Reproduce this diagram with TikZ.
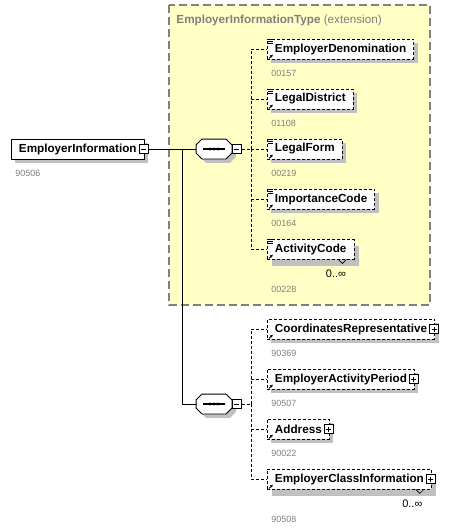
\documentclass[tikz,border=0pt]{standalone}
\usepackage{fontspec}
\setmainfont{Liberation Sans}
\usepackage{tikz}
\usetikzlibrary{positioning,calc,arrows.meta}
\definecolor{TypeYellow}{RGB}{255,255,198}
\definecolor{ShadowGray}{RGB}{192,192,192}
\definecolor{IdGray}{RGB}{128,128,128}

\begin{document}
\begin{tikzpicture}[x=1pt, y=-1pt, line width=0.9pt]
        % Styles for boxes
        \tikzstyle{shadowed} = [preaction={fill=ShadowGray, transform canvas={xshift=4pt, yshift=-4pt}}]
        \tikzstyle{deepshadowed} = [preaction={fill=ShadowGray, transform canvas={xshift=5pt, yshift=-7pt}}]
        \tikzstyle{box} = [
            draw,
            fill=white,
            font=\fontsize{11.7}{14}\selectfont\bfseries,
            minimum height=20pt,
            inner xsep=7.5pt,
            inner ysep=0pt,
            anchor=west
        ]
        \tikzstyle{root} = [box, shadowed]
        \tikzstyle{elem} = [box, dash pattern=on 3pt off 2pt, shadowed]
        \tikzstyle{multielem} = [box, dash pattern=on 3pt off 2pt, deepshadowed]
        \tikzstyle{link} = [dash pattern=on 3pt off 2pt]
        \tikzstyle{idlabel} = [font=\fontsize{9}{11}\selectfont, text=IdGray, inner sep=0pt]
        \tikzstyle{occurs} = [font=\fontsize{11}{13}\selectfont, inner sep=0pt]
        \tikzstyle{toggle} = [draw, solid, fill=white, minimum size=9pt, inner sep=0pt, line width=0.8pt]
        \tikzstyle{minus} = [toggle, path picture={
            \draw[line width=0.8pt] ([xshift=2pt]path picture bounding box.west) -- ([xshift=-2pt]path picture bounding box.east);}]
        \tikzstyle{plus} = [toggle, path picture={
            \draw[line width=0.8pt] ([xshift=2pt]path picture bounding box.west) -- ([xshift=-2pt]path picture bounding box.east);
            \draw[line width=0.8pt] ([yshift=2pt]path picture bounding box.south) -- ([yshift=-2pt]path picture bounding box.north);}]
        \tikzstyle{seq} = [minimum width=35pt, minimum height=19pt, inner sep=0pt]

        \useasboundingbox (0,0) rectangle (471,532);

        % Extension type box
        \draw[fill=TypeYellow, draw=IdGray, line width=1.3pt, dash pattern=on 8pt off 4pt] (169,5) rectangle (430,305);
        \node[anchor=west, inner sep=0pt, text=IdGray, font=\fontsize{11.7}{14}\selectfont] (typename) at (176,20) {\textbf{EmployerInformationType} (extension)};

        % Root element
        \node[root] (ei) at (11,149) {EmployerInformation\hspace{5pt}};
        \node[minus] (eiminus) at ([xshift=-1pt]ei.east) {};
        \node[idlabel, below right=10pt and 4pt of ei.south west] (eiid) {90506};

        % Sequences (octagon drawn round each node)
        \node[seq] (seq1) at (214,149) {};
        \node[seq] (seq2) at (214,404) {};
        \foreach \s in {seq1,seq2} {
            \draw[fill=white, shadowed] ([xshift=6pt]\s.north west) -- ([xshift=-6pt]\s.north east) -- ([yshift=-6pt]\s.north east)
                -- ([yshift=6pt]\s.south east) -- ([xshift=-6pt]\s.south east) -- ([xshift=6pt]\s.south west)
                -- ([yshift=6pt]\s.south west) -- ([yshift=-6pt]\s.north west) -- cycle;
            \draw[line width=1.2pt] ([xshift=7pt]\s.west) -- ([xshift=-7pt]\s.east);
            \foreach \dx in {-4,0,4} \fill ([xshift=\dx pt]\s.center) circle (1.6pt);
        }
        \node[minus, anchor=west] (seq1minus) at (seq1.east) {};
        \node[minus, anchor=west] (seq2minus) at (seq2.east) {};

        \coordinate (split) at (182,149);
        \coordinate (bus1) at (251,149);
        \coordinate (bus2) at (251,404);

        \draw (eiminus.east) -- (seq1.west);
        \draw (split) |- (seq2.west);
        \draw[link] (seq1minus.east) -- (bus1);
        \draw[link] (seq2minus.east) -- (bus2);

        % Elements of the extension
        \foreach \nm/\txt/\ypos/\id in {denom/EmployerDenomination/49/00157, district/LegalDistrict/99/01108, form/LegalForm/149/00219, importance/ImportanceCode/199/00164} {
            \node[elem] (\nm) at (267,\ypos) {\txt};
            \node[idlabel, below right=10pt and 4pt of \nm.south west] (\nm-id) {\id};
            \draw[link] (bus1) |- (\nm.west);
            \foreach \dy in {1,3,5} \draw[line width=0.7pt] ([shift={(1,\dy)}]\nm.north west) -- ++(5,0);
            \draw[-{Latex[length=3pt,width=3pt]}, line width=0.9pt] ([shift={(2,-1)}]\nm.south west) -- ++(4,-4);
        }

        \node[multielem] (activity) at (267,249) {ActivityCode};
        \node[occurs, below left=10pt and 8pt of activity.south east] (activity-occ) {0..∞};
        \node[idlabel, below right=26pt and 4pt of activity.south west] (activity-id) {00228};
        \draw[link] (bus1) |- (activity.west);
        \foreach \dy in {1,3,5} \draw[line width=0.7pt] ([shift={(1,\dy)}]activity.north west) -- ++(5,0);
        \draw[-{Latex[length=3pt,width=3pt]}, line width=0.9pt] ([shift={(2,-1)}]activity.south west) -- ++(4,-4);
        \draw[line width=0.7pt] ([xshift=-16pt]activity.south east) -- ++(4,4) -- ++(4,-4);

        % Elements of the second sequence
        \foreach \nm/\txt/\ypos/\id in {coords/CoordinatesRepresentative/329/90369, period/EmployerActivityPeriod/379/90507, address/Address/429/90022} {
            \node[elem] (\nm) at (267,\ypos) {\txt\hspace{5pt}};
            \node[plus] (\nm-plus) at ([xshift=-1pt]\nm.east) {};
            \node[idlabel, below right=10pt and 4pt of \nm.south west] (\nm-id) {\id};
            \draw[link] (bus2) |- (\nm.west);
            \draw[-{Latex[length=3pt,width=3pt]}, line width=0.9pt] ([shift={(2,-1)}]\nm.south west) -- ++(4,-4);
        }

        \node[multielem] (classinfo) at (267,479) {EmployerClassInformation\hspace{5pt}};
        \node[plus] (classinfo-plus) at ([xshift=-1pt]classinfo.east) {};
        \node[occurs, below left=10pt and 9pt of classinfo.south east] (classinfo-occ) {0..∞};
        \node[idlabel, below right=26pt and 4pt of classinfo.south west] (classinfo-id) {90508};
        \draw[link] (bus2) |- (classinfo.west);
        \draw[-{Latex[length=3pt,width=3pt]}, line width=0.9pt] ([shift={(2,-1)}]classinfo.south west) -- ++(4,-4);
        \draw[line width=0.7pt] ([xshift=-16pt]classinfo.south east) -- ++(4,4) -- ++(4,-4);
    \end{tikzpicture}
\end{document}
